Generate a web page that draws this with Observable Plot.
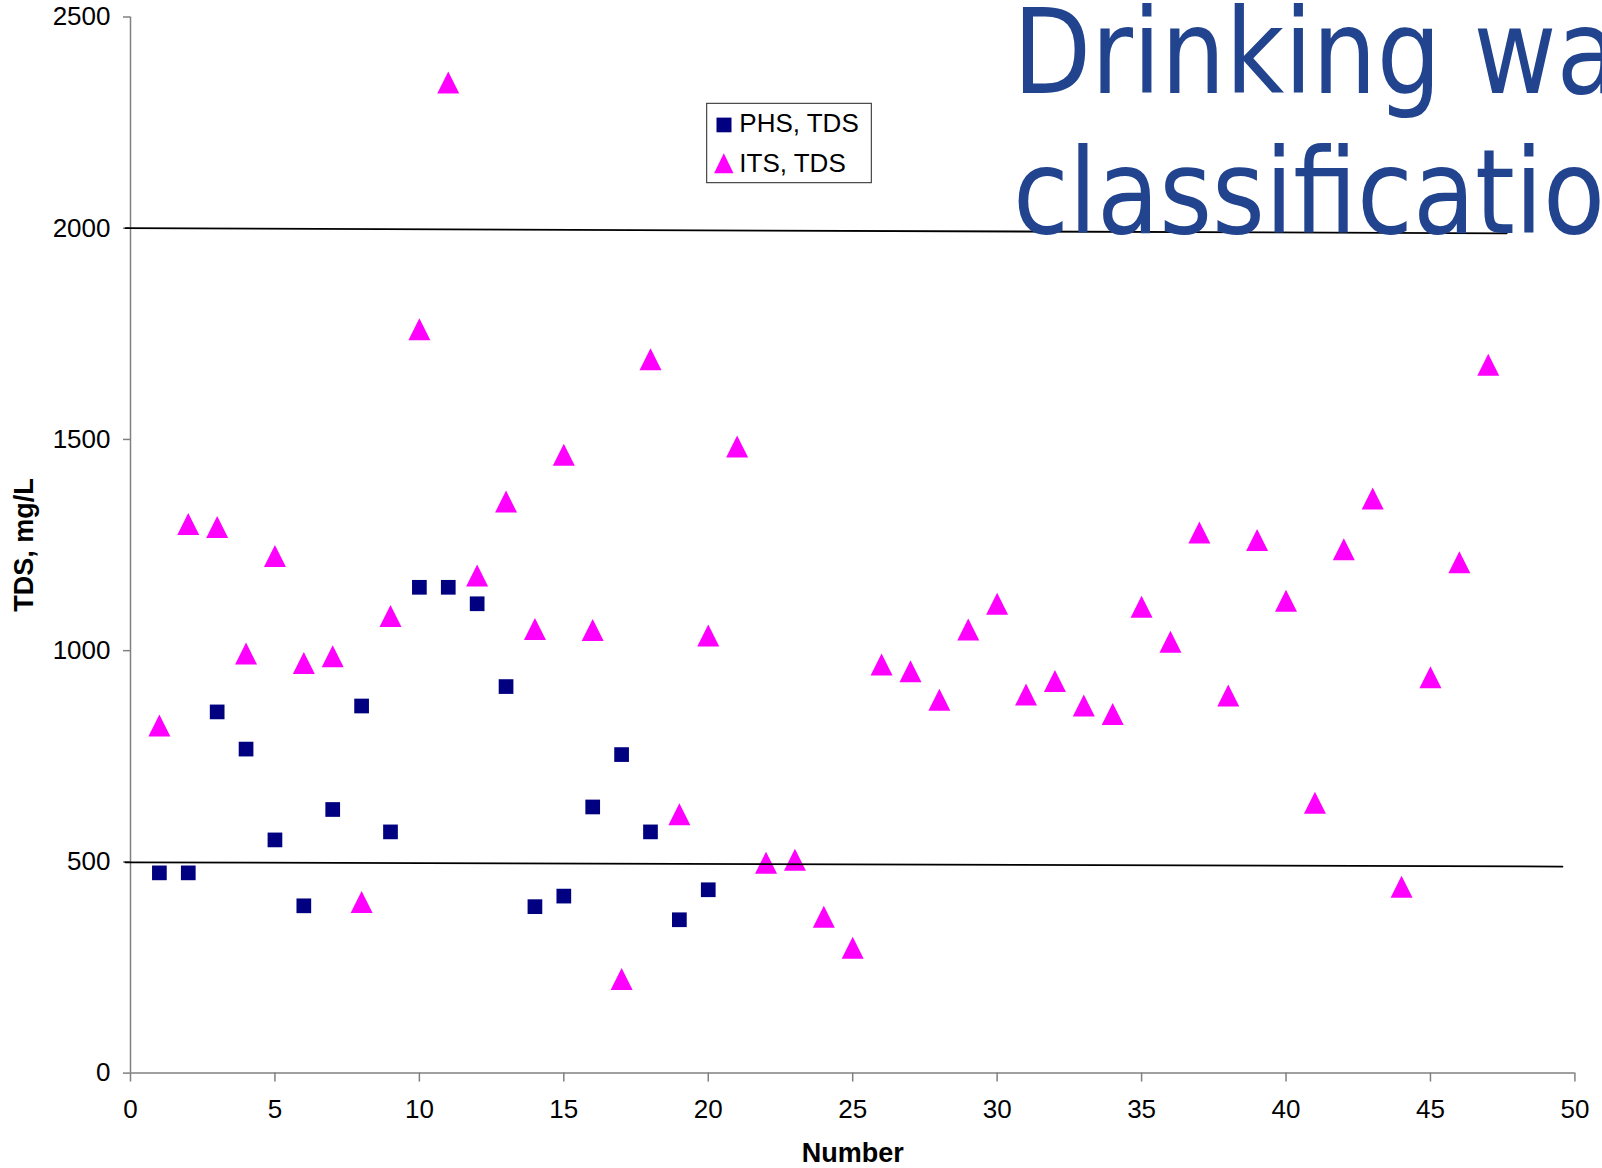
<!DOCTYPE html>
<html>
<head>
<meta charset="utf-8">
<script src="https://cdn.jsdelivr.net/npm/d3@7"></script>
<script src="https://cdn.jsdelivr.net/npm/@observablehq/plot@0.6"></script>
<style>
html, body { margin: 0; padding: 0; background: #fff; }
#wrap { position: relative; width: 1602px; height: 1168px; overflow: hidden; background: #fff; }
#chart { position: absolute; left: 0; top: 0; }
#legend { position: absolute; left: 0; top: 0; }
#title {
  position: absolute; left: 1013px; top: -18px;
  font-family: "DejaVu Sans Condensed", "DejaVu Sans", sans-serif;
  font-stretch: condensed;
  font-size: 118px; line-height: 140px; color: #22448F; white-space: nowrap;
  transform: scaleX(0.956); transform-origin: left top;
}
</style>
</head>
<body>
<div id="wrap">
  <div id="chart"></div>
  <svg id="legend" width="1602" height="200" style="pointer-events:none">
    <rect x="706.7" y="103.3" width="164.6" height="79.4" fill="#fff" stroke="#222" stroke-width="1"></rect>
    <rect x="716.5" y="117.6" width="15" height="14.7" fill="#000080"></rect>
    <polygon points="723.8,153.3 733.5,173.3 714.1,173.3" fill="#FF00FF"></polygon>
    <text x="739.3" y="132" font-family="'Liberation Sans', Arial, sans-serif" font-size="26" fill="#000" id="lg1"></text>
    <text x="739.3" y="172.3" font-family="'Liberation Sans', Arial, sans-serif" font-size="26" fill="#000" id="lg2"></text>
  </svg>
  <div id="title">Drinking water<br>classification</div>
</div>
<script>
// ---- Data ----
const seriesNames = ["PHS, TDS", "ITS, TDS"];
const phsTDS = [474, 474, 855, 767, 552, 396, 624, 869, 571, 1150, 1150, 1111, 915, 394, 419, 630, 754, 571, 363, 434];
const itsTDS = [823, 1300, 1293, 993, 1224, 971, 987, 405, 1082, 1761, 2345, 1178, 1353, 1051, 1464, 1049, 223, 1690, 613, 1036,
                1483, 498, 505, 370, 297, 967, 951, 884, 1050, 1111, 896, 928, 870, 850, 1104, 1021, 1280, 894, 1262, 1118,
                640, 1240, 1360, 441, 937, 1209, 1677];
const xTicks = [0, 5, 10, 15, 20, 25, 30, 35, 40, 45, 50];
const yTicks = [0, 500, 1000, 1500, 2000, 2500];
const xLabel = "Number";
const yLabel = "TDS, mg/L";
// hand-drawn guide lines (start/end in data units)
const guideHighX = [-0.17, 47.64];
const guideHighY = [2000, 1988];
const guideLowX = [-0.18, 49.57];
const guideLowY = [499, 489];

// ---- Tables ----
const phsRows = phsTDS.map((v, i) => ({n: i + 1, v}));
const itsRows = itsTDS.map((v, i) => ({n: i + 1, v}));
const guideHigh = guideHighX.map((x, i) => ({x, y: guideHighY[i]}));
const guideLow = guideLowX.map((x, i) => ({x, y: guideLowY[i]}));

// Excel-like markers centred on their bounding box
const squareSym = {draw(ctx, size) { const r = Math.sqrt(size / Math.PI); ctx.rect(-r, -r, 2 * r, 2 * r); }};
const triangleSym = {draw(ctx, size) { const r = Math.sqrt(size / Math.PI); ctx.moveTo(0, -r); ctx.lineTo(r, r); ctx.lineTo(-r, r); ctx.closePath(); }};

const axisColor = "#808080";
const font = '"Liberation Sans", Arial, sans-serif';

const chart = Plot.plot({
  width: 1602,
  height: 1168,
  marginLeft: 130,
  marginRight: 27.6,
  marginTop: 16.5,
  marginBottom: 95.4,
  x: {domain: [0, 50]},
  y: {domain: [0, 2500]},
  style: {fontFamily: font, background: "transparent", color: "#000"},
  marks: [
    Plot.axisX({ticks: xTicks, tickSize: 9, tickPadding: 17, fontSize: 26, stroke: axisColor, strokeWidth: 1.5, fill: "#000", label: null, tickFormat: d => String(d)}),
    Plot.axisY({ticks: yTicks, tickSize: 7, tickPadding: 13, fontSize: 26, stroke: axisColor, strokeWidth: 1.5, fill: "#000", label: null, tickFormat: d => String(d)}),
    Plot.ruleY([0], {stroke: axisColor, strokeWidth: 1.5}),
    Plot.ruleX([0], {stroke: axisColor, strokeWidth: 1.5}),
    Plot.dot(phsRows, {x: "n", y: "v", symbol: squareSym, r: 7.35, fill: "#000080", stroke: "none"}),
    Plot.dot(itsRows, {x: "n", y: "v", symbol: triangleSym, r: 11, fill: "#FF00FF", stroke: "none"}),
    Plot.line(guideHigh, {x: "x", y: "y", stroke: "#000", strokeWidth: 1.8}),
    Plot.line(guideLow, {x: "x", y: "y", stroke: "#000", strokeWidth: 1.8}),
    Plot.text([xLabel], {text: d => d, frameAnchor: "bottom", lineAnchor: "bottom", textAnchor: "middle", dy: 89, fontSize: 27, fontWeight: "bold", fill: "#000"}),
    Plot.text([yLabel], {text: d => d, frameAnchor: "left", textAnchor: "middle", lineAnchor: "middle", rotate: -90, dx: -106.5, fontSize: 27, fontWeight: "bold", fill: "#000"})
  ]
});
document.getElementById("chart").appendChild(chart);
document.getElementById("lg1").textContent = seriesNames[0];
document.getElementById("lg2").textContent = seriesNames[1];
</script>
</body>
</html>
